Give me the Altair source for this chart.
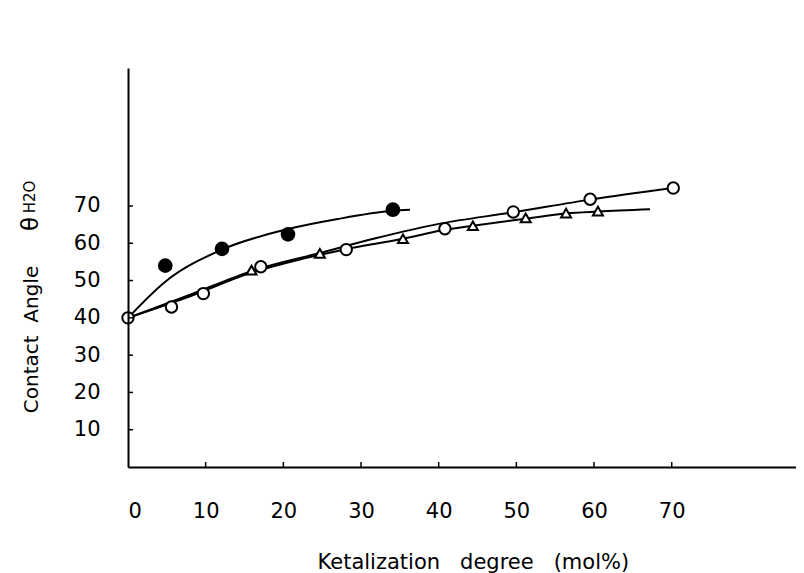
import altair as alt
import pandas as pd

# ---- data ----
filled_x = [4.8, 12.1, 20.6, 34.1]
filled_y = [54.0, 58.5, 62.4, 69.0]

open_x = [0, 5.6, 9.7, 17.1, 28.1, 40.8, 49.6, 59.5, 70.2]
open_y = [40.0, 42.9, 46.5, 53.7, 58.3, 63.9, 68.4, 71.8, 74.8]

tri_x = [15.9, 24.7, 35.4, 44.4, 51.2, 56.4, 60.5]
tri_y = [52.8, 57.3, 61.2, 64.7, 66.8, 68.1, 68.6]

# hand-drawn fit curves
curve_filled_x = [0, 4.8, 12.1, 20.6, 27.0, 34.1, 36.3]
curve_filled_y = [40.0, 49.7, 58.3, 63.8, 66.5, 68.7, 69.0]

curve_open_x = [0, 8, 16, 24.7, 32, 40, 49.6, 59.5, 70.2]
curve_open_y = [40.0, 46.2, 52.6, 57.4, 61.4, 65.2, 68.3, 71.7, 74.8]

curve_tri_x = [0, 8, 16, 22, 28.1, 35.4, 40.8, 44.4, 51.2, 56.4, 60.5, 67.2]
curve_tri_y = [40.0, 45.8, 52.2, 55.6, 58.4, 61.2, 63.6, 64.7, 66.6, 68.0, 68.5, 69.1]

x_ticks = [0, 10, 20, 30, 40, 50, 60, 70]
y_ticks = [10, 20, 30, 40, 50, 60, 70]

NB = "\u00a0"
x_title = f"Ketalization{NB*3}degree{NB*3}(mol%)"
y_title = f"Contact{NB*2}Angle"

FONT = "DejaVu Sans"
W, H = 668, 399

xscale = alt.Scale(domain=[0, 86], nice=False, zero=False)
yscale = alt.Scale(domain=[0, 107], nice=False, zero=False)

xaxis = alt.Axis(values=x_ticks, tickSize=0, ticks=False, grid=False,
                 labelPadding=44, labelBaseline="middle", labelFontSize=21,
                 labelFont=FONT, labelColor="black", domainColor="black",
                 domainWidth=2, title=x_title,
                 titleFont=FONT, titleFontSize=21, titleFontWeight="normal",
                 titleColor="black", titleX=189, titleY=95, titleAlign="left",
                 titleBaseline="middle", zindex=1)
yaxis = alt.Axis(values=y_ticks, tickSize=0, ticks=False, grid=False,
                 labelPadding=28, labelBaseline="middle", labelFontSize=21,
                 labelFont=FONT, labelColor="black", domainColor="black",
                 domainWidth=2, title=y_title, titleFont=FONT,
                 titleFontSize=20, titleFontWeight="normal", titleColor="black",
                 titleX=-97, titleY=271, titleAngle=270, titleAlign="center",
                 titleBaseline="middle", zindex=1)


def xy(xf="x", yf="y"):
    return dict(x=alt.X(f"{xf}:Q", scale=xscale, axis=xaxis),
                y=alt.Y(f"{yf}:Q", scale=yscale, axis=yaxis))


def line(xs, ys):
    return alt.Chart(pd.DataFrame({"x": xs, "y": ys})).mark_line(
        color="black", strokeWidth=2, interpolate="monotone").encode(**xy())


lines = [line(curve_filled_x, curve_filled_y),
         line(curve_open_x, curve_open_y),
         line(curve_tri_x, curve_tri_y)]

filled_pts = alt.Chart(pd.DataFrame({"x": filled_x, "y": filled_y})).mark_point(
    shape="circle", filled=True, fill="black", stroke="black", size=160,
    opacity=1).encode(**xy())

open_pts = alt.Chart(pd.DataFrame({"x": open_x, "y": open_y})).mark_point(
    shape="circle", filled=True, fill="white", stroke="black", strokeWidth=2,
    size=130, opacity=1).encode(**xy())

tri_pts = alt.Chart(pd.DataFrame({"x": tri_x, "y": tri_y})).mark_point(
    shape="triangle-up", filled=True, fill="white", stroke="black",
    strokeWidth=2, size=100, opacity=1).encode(**xy())

xt = alt.Chart(pd.DataFrame({"t": x_ticks[1:]})).mark_rule(
    color="black", strokeWidth=1.5).encode(
    x=alt.X("t:Q", scale=xscale, axis=xaxis), y=alt.value(H), y2=alt.value(H - 5))

yt = alt.Chart(pd.DataFrame({"t": y_ticks})).mark_rule(
    color="black", strokeWidth=1.5).encode(
    y=alt.Y("t:Q", scale=yscale, axis=yaxis), x=alt.value(0), x2=alt.value(5))

theta = alt.Chart(pd.DataFrame({"s": ["θ"]})).mark_text(
    angle=270, font=FONT, fontSize=23, color="black",
    align="center", baseline="middle").encode(
    text="s:N", x=alt.value(-97), y=alt.value(156))

h2o = alt.Chart(pd.DataFrame({"s": ["H2O"]})).mark_text(
    angle=270, font=FONT, fontSize=15, color="black",
    align="center", baseline="middle").encode(
    text="s:N", x=alt.value(-98), y=alt.value(129))

chart = alt.layer(*lines, tri_pts, open_pts, filled_pts, xt, yt, theta, h2o).properties(
    width=W, height=H,
    padding={"left": 120, "top": 60, "right": 0, "bottom": 106},
    autosize=alt.AutoSizeParams(type="none"),
).configure_view(strokeWidth=0)

chart.save("out.html", embed_options={"renderer": "svg", "actions": False})
